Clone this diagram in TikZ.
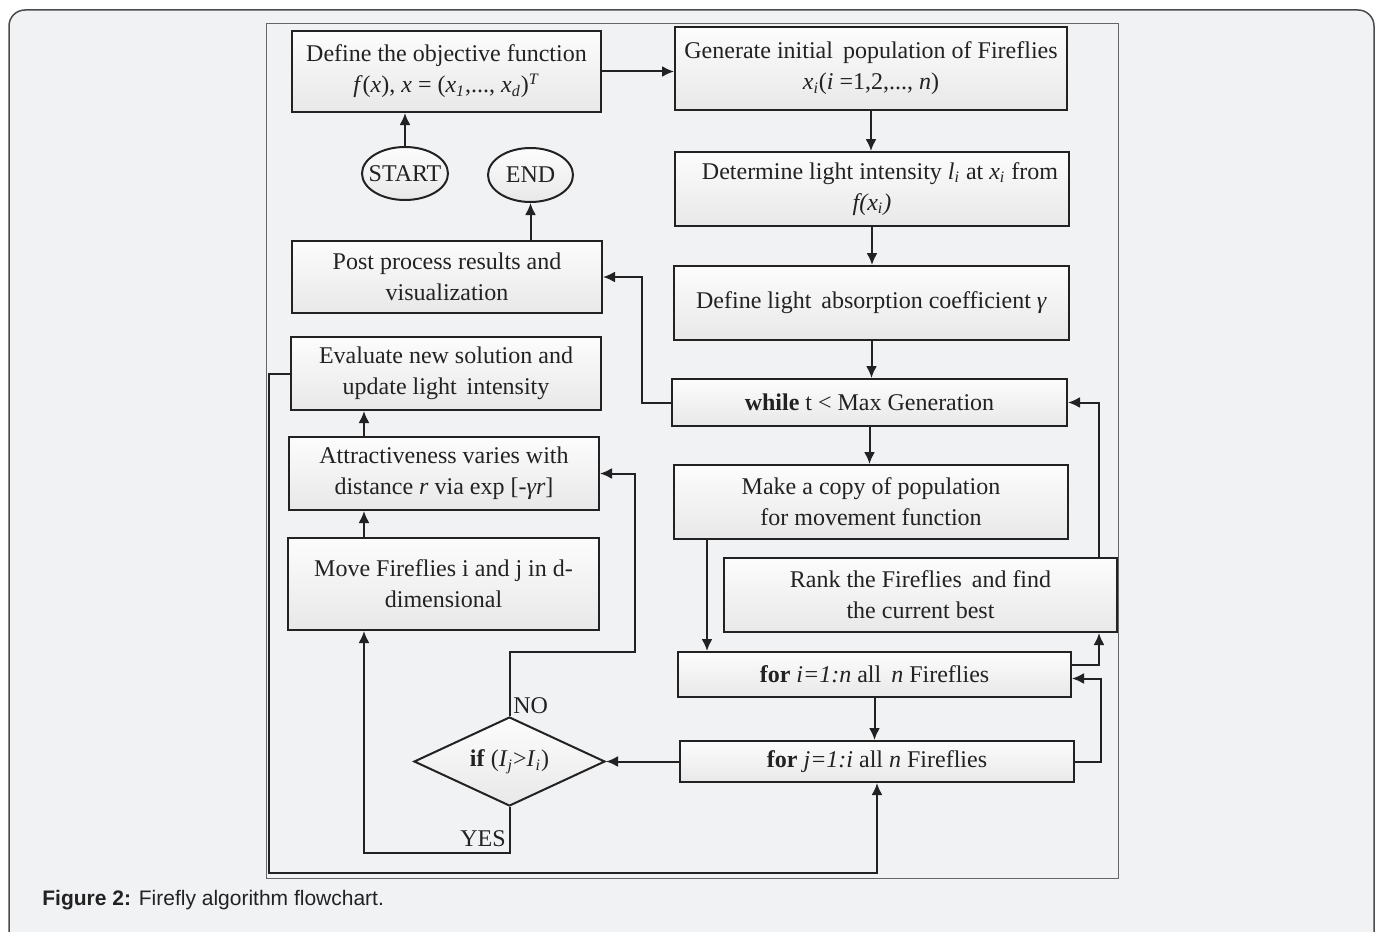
\documentclass[tikz,border=0pt]{standalone}
\usepackage{fontspec}
\setmainfont{Liberation Serif}
\newfontfamily\capfont{Liberation Sans}
\usetikzlibrary{shapes.geometric,arrows.meta}
\definecolor{panel}{HTML}{F1F2F4}
\definecolor{ink}{HTML}{222222}
\newcommand{\sub}[1]{\textsubscript{\textit{#1}}}

\begin{document}
\begin{tikzpicture}[x=0.5pt,y=-0.5pt,
	box/.style={draw=ink,line width=1pt,top color=gray!2,bottom color=gray!18,
		inner sep=0pt,align=center,text=ink,font=\fontsize{12}{15.5}\selectfont},
	oval/.style={box,ellipse,inner xsep=-3pt,inner ysep=0pt},
	test/.style={box,diamond,aspect=2.15,inner ysep=-2pt},
	arr/.style={draw=ink,line width=1pt,-{Latex[length=6pt,width=5.5pt]}},
	lbl/.style={text=ink,font=\fontsize{12}{14.5}\selectfont,inner sep=0pt}]
	\clip (0,0) rectangle (1380,931);
	\useasboundingbox (0,0) rectangle (1380,931);
	\fill[white] (0,0) rectangle (1380,931);
	\draw[fill=panel,draw=gray!60!black,line width=0.75pt,rounded corners=8pt] (9,10) rectangle (1374,965);
	\draw[gray!80!black,line width=0.5pt] (266,24) rectangle (1118,878);
	
	\node[box,minimum width=154.5pt,minimum height=40.5pt] (obj) at (446.5,71.5)
		{Define the objective function\\\textit{f}(\textit{x}), \textit{x} = (\textit{x}\sub{1},..., \textit{x}\sub{d})\textsuperscript{\textit{T}}};
	\node[box,minimum width=196pt,minimum height=41.5pt] (gen) at (871,68.5)
		{Generate initial\, population of Fireflies\\\textit{x}\sub{i}(\textit{i} =1,2,..., \textit{n})};
	\node[box,minimum width=197pt,minimum height=37pt] (det) at (872,189)
		{\hspace*{8pt}Determine light intensity \textit{l}\sub{i} at \textit{x}\sub{i} from\\\textit{f(x}\sub{i}\textit{)}};
	\node[box,minimum width=197.5pt,minimum height=37pt] (abs) at (871.5,303)
		{Define light\, absorption coefficient \textit{γ}};
	\node[box,minimum width=197.5pt,minimum height=23.5pt] (whl) at (869.5,402.5)
		{\textbf{while} t < Max Generation};
	\node[box,minimum width=197pt,minimum height=37pt] (copy) at (871,502)
		{Make a copy of population\\for movement function};
	\node[box,minimum width=196.5pt,minimum height=37pt] (rank) at (920.5,595)
		{Rank the Fireflies\, and find\\the current best};
	\node[box,minimum width=196.5pt,minimum height=22.5pt] (fori) at (874.5,674.5)
		{\textbf{for} \textit{i=1:n} all\, \textit{n} Fireflies};
	\node[box,minimum width=197pt,minimum height=20.5pt] (forj) at (877,761.5)
		{\textbf{for} \textit{j=1:i} all \textit{n} Fireflies};
	
	\node[oval,minimum width=43pt,minimum height=26.5pt] (start) at (405,173.5) {START};
	\node[oval,minimum width=42.5pt,minimum height=27pt] (stop) at (530.5,175) {END};
	\node[box,minimum width=155pt,minimum height=36pt] (post) at (447,277)
		{Post process results and\\visualization};
	\node[box,minimum width=155pt,minimum height=36.5pt] (eval) at (446,373.5)
		{Evaluate new solution and\\update light\, intensity};
	\node[box,minimum width=155pt,minimum height=36.5pt] (attr) at (444,473.5)
		{Attractiveness varies with\\distance \textit{r} via exp [-\textit{γr}]};
	\node[box,minimum width=155.5pt,minimum height=46pt] (move) at (443.5,584)
		{Move Fireflies i and j in d-\\dimensional};
	\node[test,minimum width=95.5pt,minimum height=44.5pt] (dia) at (509.5,761.5)
		{\textbf{if} (\textit{I}\sub{j}>\textit{I}\sub{i})};
	
	\coordinate (noturn) at (635,652);
	\coordinate (yesturn) at (364,853);
	\coordinate (loopturn) at (269,873);
	
	\draw[arr] (obj.east) -- (gen.west |- obj.east);
	\draw[arr] (start.north) -- (start.north |- obj.south);
	\draw[arr] (gen.south) -- (gen.south |- det.north);
	\draw[arr] (det.south) -- (det.south |- abs.north);
	\draw[arr] (abs.south) -- (abs.south |- whl.north);
	\draw[arr] (whl.south) -- (whl.south |- copy.north);
	\draw[arr] (whl.west) -- ++(-29,0) |- (post.east);
	\draw[arr] (post.north -| stop.south) -- (stop.south);
	\draw[arr] ([xshift=17pt]copy.south west) -- ([xshift=17pt]copy.south west |- fori.north);
	\draw[arr] ([xshift=-9.5pt]rank.north east) |- (whl.east);
	\draw[arr] ([yshift=5pt]fori.east) -| ([xshift=-9.5pt]rank.south east);
	\draw[arr] (forj.east) -- ++(26,0) |- ([yshift=-2pt]fori.east);
	\draw[arr] (fori.south) -- (fori.south |- forj.north);
	\draw[arr] (forj.west) -- (dia.east);
	\draw[arr] (dia.north) |- (noturn) |- (attr.east);
	\draw[arr] (dia.south) |- (yesturn) -- (yesturn |- move.south);
	\draw[arr] (yesturn |- move.north) -- (yesturn |- attr.south);
	\draw[arr] (yesturn |- attr.north) -- (yesturn |- eval.south);
	\draw[arr] (eval.west) -| (loopturn) -| (forj.south);
	
	\node[lbl,anchor=south west] (nolbl) at (513,714) {NO};
	\node[lbl,anchor=south east] (yeslbl) at (506,847) {YES};
	\node[anchor=base west,inner sep=0pt,text=ink,font=\capfont\fontsize{10.5}{12}\selectfont] (caption) at (42,905)
		{\textbf{Figure 2:} Firefly algorithm flowchart.};
\end{tikzpicture}
\end{document}
